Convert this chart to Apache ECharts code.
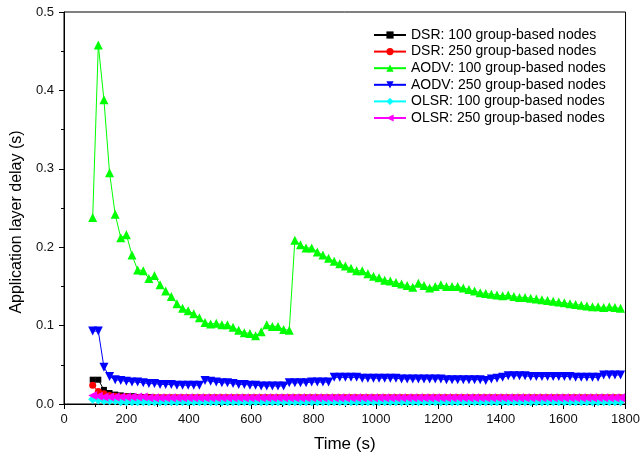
<!DOCTYPE html>
<html>
<head>
<meta charset="utf-8">
<script src="https://cdn.jsdelivr.net/npm/echarts@6/dist/echarts.min.js"></script>
<style>
html,body{margin:0;padding:0;background:#fff;}
#chart{width:643px;height:461px;}
</style>
</head>
<body>
<div id="chart"></div>
<script>
// Sampling times (s)
const times = [92,110,128,146,164,182,200,218,236,254,272,290,308,326,344,362,380,398,416,434,
452,470,488,506,524,542,560,578,596,614,632,650,668,686,704,722,740,758,776,794,
812,830,848,866,884,902,920,938,956,974,992,1010,1028,1046,1064,1082,1100,1118,1136,1154,
1172,1190,1208,1226,1244,1262,1280,1298,1316,1334,1352,1370,1388,1406,1424,1442,1460,1478,1496,1514,
1532,1550,1568,1586,1604,1622,1640,1658,1676,1694,1712,1730,1748,1766,1784];

const dsr100 = [0.031,0.031,0.018,0.014,0.012,0.011,0.010,0.010,0.009,0.009,
0.009,0.008,0.008,0.008,0.008,0.008,0.008,0.008,0.008,0.008,
0.008,0.008,0.008,0.008,0.008,0.008,0.008,0.008,0.008,0.008,
0.008,0.008,0.008,0.008,0.008,0.008,0.008,0.008,0.008,0.008,
0.008,0.008,0.008,0.008,0.008,0.008,0.008,0.008,0.008,0.008,
0.008,0.008,0.008,0.008,0.008,0.008,0.008,0.008,0.008,0.008,
0.008,0.008,0.008,0.008,0.008,0.008,0.008,0.008,0.008,0.008,
0.008,0.008,0.008,0.008,0.008,0.008,0.008,0.008,0.008,0.008,
0.008,0.008,0.008,0.008,0.008,0.008,0.008,0.008,0.008,0.008,
0.008,0.008,0.008,0.008,0.008];

const dsr250 = [0.024,0.016,0.013,0.011,0.010,0.009,0.009,0.008,0.008,0.008,
0.008,0.008,0.008,0.008,0.008,0.008,0.008,0.008,0.008,0.008,
0.008,0.008,0.008,0.008,0.008,0.008,0.008,0.008,0.008,0.008,
0.008,0.008,0.008,0.008,0.008,0.008,0.008,0.008,0.008,0.008,
0.008,0.008,0.008,0.008,0.008,0.008,0.008,0.008,0.008,0.008,
0.008,0.008,0.008,0.008,0.008,0.008,0.008,0.008,0.008,0.008,
0.008,0.008,0.008,0.008,0.008,0.008,0.008,0.008,0.008,0.008,
0.008,0.008,0.008,0.008,0.008,0.008,0.008,0.008,0.008,0.008,
0.008,0.008,0.008,0.008,0.008,0.008,0.008,0.008,0.008,0.008,
0.008,0.008,0.008,0.008,0.008];

const aodv100 = [0.238,0.458,0.388,0.295,0.242,0.212,0.216,0.190,0.171,0.170,
0.160,0.164,0.152,0.144,0.137,0.128,0.122,0.119,0.115,0.110,
0.104,0.102,0.103,0.101,0.101,0.098,0.094,0.091,0.090,0.087,
0.092,0.101,0.099,0.099,0.095,0.094,0.209,0.203,0.199,0.199,
0.194,0.190,0.186,0.182,0.179,0.176,0.173,0.170,0.170,0.166,
0.163,0.161,0.158,0.157,0.155,0.153,0.151,0.149,0.154,0.151,
0.148,0.150,0.152,0.150,0.150,0.150,0.148,0.146,0.144,0.142,
0.141,0.140,0.139,0.138,0.139,0.137,0.136,0.136,0.135,0.134,
0.133,0.132,0.131,0.130,0.129,0.128,0.127,0.126,0.125,0.124,
0.124,0.123,0.124,0.123,0.122];

const aodv250 = [0.093,0.093,0.047,0.035,0.031,0.030,0.029,0.028,0.028,0.027,
0.026,0.026,0.025,0.025,0.025,0.024,0.024,0.024,0.024,0.024,
0.030,0.029,0.028,0.027,0.027,0.026,0.025,0.025,0.024,0.024,
0.023,0.023,0.023,0.023,0.023,0.027,0.027,0.027,0.027,0.028,
0.028,0.028,0.028,0.034,0.034,0.034,0.034,0.034,0.033,0.033,
0.033,0.033,0.033,0.033,0.033,0.032,0.032,0.032,0.032,0.032,
0.032,0.032,0.032,0.031,0.031,0.031,0.031,0.031,0.031,0.031,
0.030,0.032,0.033,0.034,0.036,0.036,0.036,0.036,0.035,0.035,
0.035,0.035,0.035,0.035,0.035,0.035,0.034,0.034,0.034,0.034,
0.034,0.037,0.037,0.037,0.037];

const olsr100 = [0.006,0.005,0.004,0.004,0.004,0.003,0.003,0.003,0.003,0.003,
0.003,0.003,0.003,0.003,0.003,0.003,0.003,0.003,0.003,0.003,
0.003,0.003,0.003,0.003,0.003,0.003,0.003,0.003,0.003,0.003,
0.003,0.003,0.003,0.003,0.003,0.003,0.003,0.003,0.003,0.003,
0.003,0.003,0.003,0.003,0.003,0.003,0.003,0.003,0.003,0.003,
0.003,0.003,0.003,0.003,0.003,0.003,0.003,0.003,0.003,0.003,
0.003,0.003,0.003,0.003,0.003,0.003,0.003,0.003,0.003,0.003,
0.003,0.003,0.003,0.003,0.003,0.003,0.003,0.003,0.003,0.003,
0.003,0.003,0.003,0.003,0.003,0.003,0.003,0.003,0.003,0.003,
0.003,0.003,0.003,0.003,0.003];

const olsr250 = [0.011,0.010,0.009,0.009,0.009,0.009,0.009,0.009,0.009,0.009,
0.008,0.008,0.008,0.008,0.008,0.008,0.008,0.008,0.008,0.008,
0.008,0.008,0.008,0.008,0.008,0.008,0.008,0.008,0.008,0.008,
0.008,0.008,0.008,0.008,0.008,0.008,0.008,0.008,0.008,0.008,
0.008,0.008,0.008,0.008,0.008,0.008,0.008,0.008,0.008,0.008,
0.008,0.008,0.008,0.008,0.008,0.008,0.008,0.008,0.008,0.008,
0.008,0.008,0.008,0.008,0.008,0.008,0.008,0.008,0.008,0.008,
0.008,0.008,0.008,0.008,0.008,0.008,0.008,0.008,0.008,0.008,
0.008,0.008,0.008,0.008,0.008,0.008,0.008,0.008,0.008,0.008,
0.008,0.008,0.008,0.008,0.008];

const seriesNames = ['DSR: 100 group-based nodes','DSR: 250 group-based nodes','AODV: 100 group-based nodes',
  'AODV: 250 group-based nodes','OLSR: 100 group-based nodes','OLSR: 250 group-based nodes'];
const seriesValues = [dsr100, dsr250, aodv100, aodv250, olsr100, olsr250];

const colors = ['#000000','#ff0000','#00ff00','#0000ff','#00ffff','#ff00ff'];
const symbols = ['rect','circle','triangle','path://M0,0L2,0L1,1.732Z','diamond','path://M1.732,0L1.732,2L0,1Z'];
const sizes = [6,7,9,9,9,9];

const FONT = 'Liberation Sans, Arial, sans-serif';
const chart = echarts.init(document.getElementById('chart'), null, {renderer:'canvas'});

const series = seriesNames.map((name, k) => ({
  name: name,
  type: 'line',
  data: times.map((t, i) => [t, seriesValues[k][i]]),
  symbol: symbols[k],
  symbolSize: sizes[k],
  showAllSymbol: true,
  lineStyle: {color: colors[k], width: 1},
  itemStyle: {color: colors[k]},
  emphasis: {disabled: true},
  z: 2 + k
}));

chart.setOption({
  animation: false,
  backgroundColor: '#fff',
  grid: {left: 64, right: 16, top: 12, bottom: 57, show: true, borderColor: '#000', borderWidth: 1},
  legend: {
    orient: 'vertical', left: 373, top: 28, padding: 0,
    itemWidth: 32, itemHeight: 9, itemGap: 2.6,
    textStyle: {fontFamily: FONT, fontSize: 14, color: '#000'},
    data: seriesNames
  },
  xAxis: {
    type: 'value', min: 0, max: 1800, interval: 200,
    name: 'Time (s)', nameLocation: 'middle', nameGap: 32,
    nameTextStyle: {fontFamily: FONT, fontSize: 17, color: '#000'},
    axisLine: {lineStyle: {color: '#000', width: 1}},
    axisTick: {show: true, inside: false, length: 5, lineStyle: {color: '#000'}},
    minorTick: {show: true, splitNumber: 2, length: 3, lineStyle: {color: '#000'}},
    splitLine: {show: false},
    axisLabel: {fontFamily: FONT, fontSize: 13, color: '#111', margin: 9,
      formatter: v => String(v)}
  },
  yAxis: {
    type: 'value', min: 0, max: 0.5, interval: 0.1,
    name: 'Application layer delay (s)', nameLocation: 'middle', nameGap: 38,
    nameTextStyle: {fontFamily: FONT, fontSize: 16, color: '#000', padding: [0, 28, 0, 0]},
    axisLine: {show: true, lineStyle: {color: '#000', width: 1}},
    axisTick: {show: true, inside: false, length: 5, lineStyle: {color: '#000'}},
    minorTick: {show: true, splitNumber: 2, length: 3, lineStyle: {color: '#000'}},
    splitLine: {show: false},
    axisLabel: {fontFamily: FONT, fontSize: 13, color: '#111', margin: 10,
      formatter: v => v.toFixed(1)}
  },
  series: series
});
</script>
</body>
</html>
